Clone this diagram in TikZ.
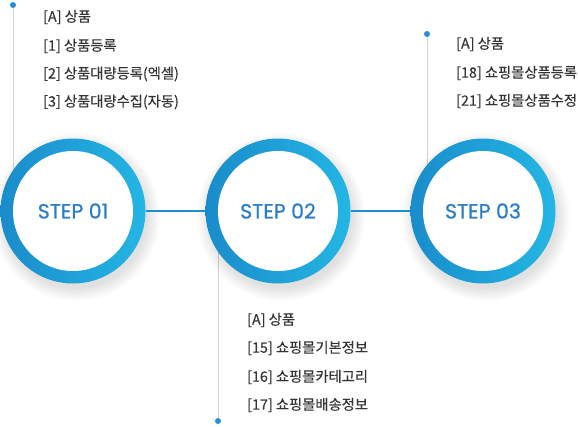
\documentclass[tikz,border=0pt]{standalone}
\usepackage{fontspec}
\setmainfont{Noto Sans CJK KR}
\newfontfamily\stepfont[FakeBold=0.6]{Poppins}
\newfontfamily\itemfont[FakeBold=0.3]{Noto Sans CJK KR}
\definecolor{ringL}{HTML}{1A8CCB}
\definecolor{ringR}{HTML}{24B6E4}
\definecolor{stepblue}{HTML}{2B7EC3}
\definecolor{linkblue}{HTML}{1C8FCE}
\definecolor{dotblue}{HTML}{2A8DD6}
\definecolor{guide}{HTML}{D4D4D4}
\definecolor{txt}{HTML}{333333}
\begin{document}
\begin{tikzpicture}[x=1pt,y=-1pt,
  ring/.style={circle, minimum size=145pt, inner sep=0pt, left color=ringL, right color=ringR, shading angle=90},
  core/.style={circle, fill=white, minimum size=120pt, inner sep=0pt, text=stepblue, font=\stepfont\fontsize{20.5}{23}\selectfont},
  dotmark/.style={circle, fill=dotblue, minimum size=6pt, inner sep=0pt},
  guideline/.style={draw=guide, line width=0.8pt},
  link/.style={draw=linkblue, line width=2pt},
  item/.style={anchor=west, inner sep=0pt, text=txt, font=\itemfont\fontsize{14.3}{16}\selectfont}
]
\useasboundingbox (0,0) rectangle (578,426);
% dots
\node[dotmark] (d1) at (13,5) {};
\node[dotmark] (d2) at (218,421) {};
\node[dotmark] (d3) at (427,34) {};
% guide lines (behind circles)
\coordinate (g1) at (13,211);
\coordinate (g2) at (218,211);
\coordinate (g3) at (427,211);
\draw[guideline] (d1) -- (g1);
\draw[guideline] (d2) -- (g2);
\draw[guideline] (d3) -- (g3);
% shadows
\foreach \cx in {73,278,483}{
  \foreach \i in {1,...,10}{
    \fill[black, opacity=0.012] (\cx+3,211+6) circle ({70+\i*1.4});
  }
}
% circles
\node[ring] (s1) at (73,211) {};
\node[ring] (s2) at (278,211) {};
\node[ring] (s3) at (483,211) {};
\node[core] (c1) at (73,211) {STEP 01};
\node[core] (c2) at (278,211) {STEP 02};
\node[core] (c3) at (483,211) {STEP 03};
% links
\draw[link] (s1) -- (s2);
\draw[link] (s2) -- (s3);
% texts
\node[item] (a1) at (43,17) {[A] 상품};
\node[item] (a2) at (43,46) {[1] 상품등록};
\node[item] (a3) at (43,74) {[2] 상품대량등록(엑셀)};
\node[item] (a4) at (43,102) {[3] 상품대량수집(자동)};
\node[item] (b1) at (247,320) {[A] 상품};
\node[item] (b2) at (247,348) {[15] 쇼핑몰기본정보};
\node[item] (b3) at (247,377) {[16] 쇼핑몰카테고리};
\node[item] (b4) at (247,405) {[17] 쇼핑몰배송정보};
\node[item] (e1) at (456,44) {[A] 상품};
\node[item] (e2) at (456,73) {[18] 쇼핑몰상품등록};
\node[item] (e3) at (456,101) {[21] 쇼핑몰상품수정};
\end{tikzpicture}
\end{document}
